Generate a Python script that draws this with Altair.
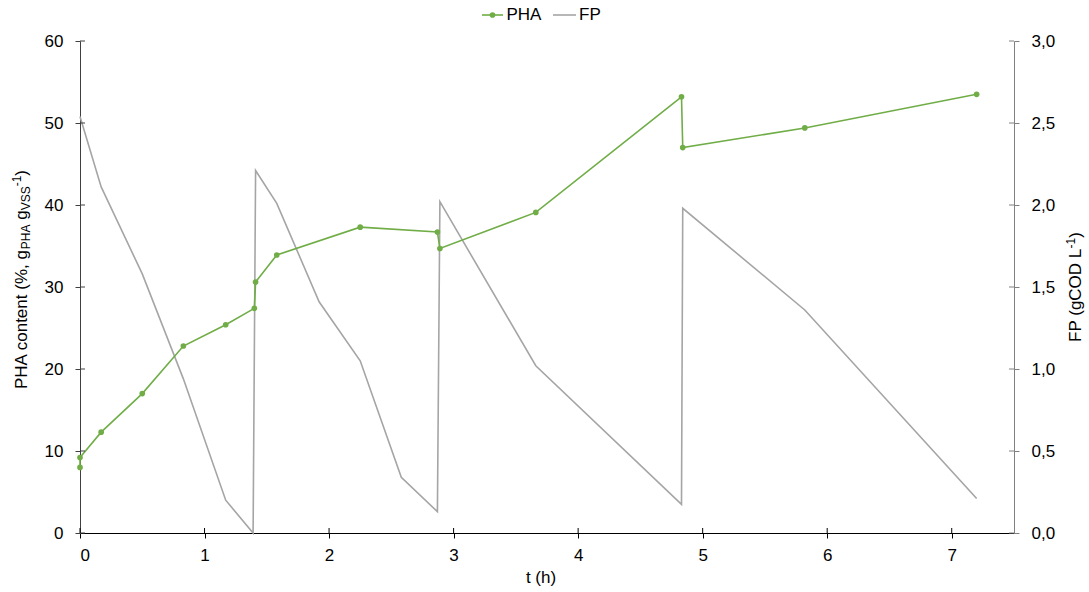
import altair as alt
import pandas as pd

# PHA content (%) over time, in sampling order
pha_t = [0, 0, 0.17, 0.5, 0.83, 1.17, 1.4, 1.41, 1.58, 2.25, 2.87, 2.89, 3.66, 4.83, 4.84, 5.82, 7.2]
pha_v = [8.0, 9.2, 12.3, 17.0, 22.8, 25.4, 27.4, 30.6, 33.9, 37.3, 36.7, 34.7, 39.1, 53.2, 47.0, 49.4, 53.5]

# FP concentration (gCOD/L) over time, in sampling order
fp_t = [0, 0.17, 0.5, 0.83, 1.17, 1.39, 1.41, 1.58, 1.92, 2.25, 2.58, 2.87, 2.89, 3.66, 4.83, 4.84, 5.82, 7.2]
fp_v = [2.54, 2.11, 1.58, 0.94, 0.20, 0.0, 2.21, 2.01, 1.41, 1.05, 0.34, 0.13, 2.02, 1.02, 0.175, 1.98, 1.36, 0.21]

# axis tick values
x_ticks = [0, 1, 2, 3, 4, 5, 6, 7]
pha_ticks = [0, 10, 20, 30, 40, 50, 60]
fp_ticks = [0.0, 0.5, 1.0, 1.5, 2.0, 2.5, 3.0]

GREEN = "#70AD47"
GRAY = "#A5A5A5"
FONT = "Liberation Sans"
FS = 17
FS_SMALL = 12
W, H = 934, 492

# Arial-compatible advance widths (per 1000 units of em)
ADV = {
    "P": 667, "H": 722, "A": 667, " ": 278, "c": 500, "o": 556, "n": 556,
    "t": 278, "e": 556, "(": 333, ")": 333, "%": 889, ",": 278, "g": 556,
    "V": 667, "S": 667, "-": 333, "1": 556, "F": 611, "C": 722, "O": 778,
    "D": 722, "L": 556,
}


def text_width(s, size):
    return sum(ADV.get(ch, 556) for ch in s) * size / 1000.0


pha_df = pd.DataFrame({"i": range(len(pha_t)), "t": pha_t, "v": pha_v})
fp_df = pd.DataFrame({"i": range(len(fp_t)), "t": fp_t, "v": fp_v})
one = pd.DataFrame({"k": [0]})

x_scale = alt.Scale(domain=[0, 7.5], nice=False, zero=False)
x_axis = alt.Axis(
    values=x_ticks, format="d", title=None, grid=False,
    tickSize=5, labelPadding=9, domainColor="#000000", tickColor="#000000",
    labelColor="#000000", labelFont=FONT, labelFontSize=FS,
)

left_scale = alt.Scale(domain=[0, 60], nice=False)
left_axis = alt.Axis(
    values=pha_ticks, title=None, grid=False, orient="left",
    tickSize=5, labelPadding=12, domainColor="#404040", tickColor="#404040",
    labelColor="#000000", labelFont=FONT, labelFontSize=FS,
)
right_scale = alt.Scale(domain=[0, 3], nice=False)
right_axis = alt.Axis(
    values=fp_ticks, title=None, grid=False, orient="right",
    labelExpr="replace(format(datum.value, '.1f'), '.', ',')",
    tickSize=5, labelPadding=12, domainColor="#808080", tickColor="#808080",
    labelColor="#000000", labelFont=FONT, labelFontSize=FS,
)

# PHA series: line + markers
pha_line = alt.Chart(pha_df).mark_line(color=GREEN, strokeWidth=1.6).encode(
    x=alt.X("t:Q", scale=x_scale, axis=x_axis),
    y=alt.Y("v:Q", scale=left_scale, axis=left_axis),
    order="i:Q",
)
pha_pts = alt.Chart(pha_df).mark_circle(color=GREEN, size=32, opacity=1).encode(
    x=alt.X("t:Q", scale=x_scale, axis=x_axis),
    y=alt.Y("v:Q", scale=left_scale, axis=None),
)

# FP series on the secondary axis
fp_line = alt.Chart(fp_df).mark_line(color=GRAY, strokeWidth=1.6).encode(
    x=alt.X("t:Q", scale=x_scale, axis=x_axis),
    y=alt.Y("v:Q", scale=right_scale, axis=right_axis),
    order="i:Q",
)

# inner halves of the crossing tick marks
left_inner = alt.Chart(pd.DataFrame({"v": pha_ticks})).mark_rule(
    color="#404040", strokeWidth=1
).encode(y=alt.Y("v:Q", scale=left_scale, axis=None), x=alt.value(0), x2=alt.value(5))
right_inner = alt.Chart(pd.DataFrame({"v": fp_ticks})).mark_rule(
    color="#808080", strokeWidth=1
).encode(y=alt.Y("v:Q", scale=right_scale, axis=None), x=alt.value(W - 5), x2=alt.value(W))
bottom_inner = alt.Chart(pd.DataFrame({"t": x_ticks})).mark_rule(
    color="#000000", strokeWidth=1
).encode(x=alt.X("t:Q", scale=x_scale, axis=x_axis), y=alt.value(H - 5), y2=alt.value(H))


def label(txt, x, y, size=FS, angle=0, align="left", baseline="alphabetic"):
    kw = dict(text=txt, font=FONT, fontSize=size, align=align, baseline=baseline, color="#000000")
    if angle:
        kw["angle"] = angle
    return alt.Chart(one).mark_text(**kw).encode(x=alt.value(x), y=alt.value(y))


# rotated left title with subscripts and superscript:
# (text, font size, baseline shift, gap before the piece)
left_parts = [
    ("PHA content (%, g", FS, 0, 0),
    ("PHA", FS_SMALL, 3, 0),
    ("g", FS, 0, text_width(" ", FS)),
    ("VSS", FS_SMALL, 3, 0),
    ("-1", FS_SMALL, -6, 0),
    (")", FS, 0, 0),
]
titles = []
base_x, y0 = -53, 348
for txt, size, shift, gap in left_parts:
    y0 -= gap
    titles.append(label(txt, base_x + shift, y0, size=size, angle=270))
    y0 -= text_width(txt, size)

# rotated right title with superscript
right_parts = [("FP (gCOD L", FS, 0), ("-1", FS_SMALL, -6), (")", FS, 0)]
total = sum(text_width(t, s) for t, s, _ in right_parts)
base_x, y0 = 1001, H / 2 + total / 2
for txt, size, shift in right_parts:
    titles.append(label(txt, base_x + shift, y0, size=size, angle=270))
    y0 -= text_width(txt, size)

# x-axis title
titles.append(label("t (h)", 461, 537, align="center", baseline="middle"))

# legend
leg_y = -26
legend = [
    alt.Chart(one).mark_rule(color=GREEN, strokeWidth=1.6).encode(
        x=alt.value(402), x2=alt.value(423), y=alt.value(leg_y)
    ),
    alt.Chart(one).mark_circle(color=GREEN, size=32, opacity=1).encode(
        x=alt.value(412.5), y=alt.value(leg_y)
    ),
    label("PHA", 426.5, leg_y, baseline="middle"),
    alt.Chart(one).mark_rule(color=GRAY, strokeWidth=1.6).encode(
        x=alt.value(473), x2=alt.value(496), y=alt.value(leg_y)
    ),
    label("FP", 499, leg_y, baseline="middle"),
]

chart = (
    alt.layer(fp_line, pha_line, pha_pts, left_inner, right_inner, bottom_inner, *titles, *legend)
    .resolve_scale(y="independent")
    .properties(
        width=W,
        height=H,
        autosize=alt.AutoSizeParams(type="none"),
        padding={"left": 80, "top": 41, "right": 1089 - 80 - W, "bottom": 592 - 41 - H},
        background="#ffffff",
    )
    .configure_view(stroke=None)
)

chart.save("out.html", embed_options={"renderer": "svg", "actions": False})
